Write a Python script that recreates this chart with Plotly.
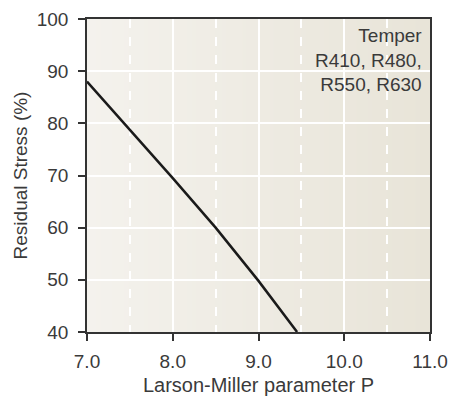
import base64, struct, zlib
import plotly.graph_objects as go

# Data
lm_param = [7.0, 8.0, 8.5, 9.0, 9.45]
residual_stress = [88.0, 69.5, 60.0, 49.8, 40.0]
x_ticks = [7.0, 8.0, 9.0, 10.0, 11.0]
y_ticks = [40, 50, 60, 70, 80, 90, 100]
annotation_text = "Temper<br>R410, R480,<br>R550, R630"

# gradient background image (generated PNG)
def gradient_png(c0, c1, w=256):
    row = b"\x00"
    for i in range(w):
        t = i / (w - 1)
        row += bytes(int(round(a + (b - a) * t)) for a, b in zip(c0, c1))
    raw = row
    def chunk(tag, data):
        return struct.pack(">I", len(data)) + tag + data + struct.pack(">I", zlib.crc32(tag + data) & 0xffffffff)
    png = b"\x89PNG\r\n\x1a\n"
    png += chunk(b"IHDR", struct.pack(">IIBBBBB", w, 1, 8, 2, 0, 0, 0))
    png += chunk(b"IDAT", zlib.compress(raw))
    png += chunk(b"IEND", b"")
    return "data:image/png;base64," + base64.b64encode(png).decode()

bg = gradient_png((244, 242, 237), (232, 228, 216))

fig = go.Figure()
fig.add_trace(go.Scatter(x=lm_param, y=residual_stress, mode="lines",
                         line=dict(color="#1a1a1a", width=2.5), showlegend=False))

fig.add_layout_image(dict(source=bg, xref="x", yref="y", x=7.0, y=100, sizex=4, sizey=60,
                          sizing="stretch", layer="below", xanchor="left", yanchor="top"))

font = "Liberation Sans, Arial, sans-serif"
tc = "#3a3a3a"
fig.update_layout(
    width=452, height=399,
    margin=dict(l=87, r=22, t=19, b=67, autoexpand=False),
    paper_bgcolor="white", plot_bgcolor="rgba(0,0,0,0)",
    font=dict(family=font, size=19, color=tc),
    xaxis=dict(range=[7.0, 11.0], tickvals=x_ticks, ticktext=[f"{v:.1f}" for v in x_ticks],
               automargin=False,
               showline=True, linecolor="#333333", linewidth=1.5, mirror=True,
               ticks="outside", ticklen=7, tickcolor="#333333", tickwidth=1.5,
               ticklabelstandoff=4,
               showgrid=True, gridcolor="white", gridwidth=1.5, zeroline=False,
               minor=dict(dtick=0.5, tick0=7.0, showgrid=True, gridcolor="white", gridwidth=1.5,
                          griddash="dash", ticks=""),
               title=dict(text="Larson-Miller parameter P", standoff=7,
                          font=dict(size=20, color=tc)),
               tickfont=dict(size=19, color=tc)),
    yaxis=dict(range=[40, 100], tickvals=y_ticks,
               automargin=False,
               showline=True, linecolor="#333333", linewidth=1.5, mirror=True,
               ticks="outside", ticklen=7, tickcolor="#333333", tickwidth=1.5,
               ticklabelstandoff=6,
               showgrid=True, gridcolor="white", gridwidth=1.5, zeroline=False,
               title=dict(text="Residual Stress (%)", standoff=4,
                          font=dict(size=19, color=tc)),
               tickfont=dict(size=19, color=tc)),
)
fig.add_annotation(x=1, y=1, xref="paper", yref="paper", xanchor="right", yanchor="top",
                   xshift=-6, yshift=-4, align="right", showarrow=False,
                   text=annotation_text, font=dict(size=19, color=tc))

fig.write_html("out.html")
